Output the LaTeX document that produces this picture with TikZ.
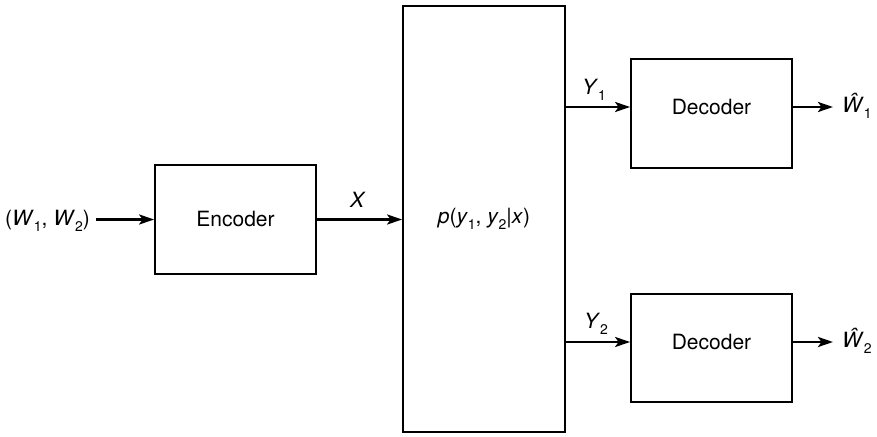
\documentclass[tikz,border=0pt]{standalone}
\usepackage{fontspec}
\setmainfont{TeX Gyre Heros}
\usetikzlibrary{arrows.meta}
\newcommand{\mysub}[1]{\raisebox{-0.28em}{\fontsize{14}{16}\selectfont #1}}
\begin{document}
\begin{tikzpicture}[x=1pt,y=-1pt,
  every node/.style={font=\fontsize{21}{25}\selectfont},
  blockbox/.style={draw, line width=1.8pt, inner sep=0pt},
  txt/.style={inner sep=2pt},
  arr/.style={line width=2.6pt, -{Stealth[length=15pt,width=10pt,inset=3.5pt]}}]
\useasboundingbox (0,0) rectangle (877,436);
% blocks
\node[blockbox, minimum width=161pt, minimum height=109pt] (enc) at (235.5,219.5) {Encoder};
\node[blockbox, minimum width=162pt, minimum height=426pt] (ch) at (484,219) {\textit{p}(\textit{y}\mysub{1}, \textit{y}\mysub{2}|\textit{x})};
\node[blockbox, minimum width=161pt, minimum height=109pt] (dec1) at (711.5,113.5) {};
\node[blockbox, minimum width=161pt, minimum height=108pt] (dec2) at (711.5,348) {};
\node[txt] (d1txt) at (711.5,107) {Decoder};
\node[txt] (d2txt) at (711.5,342) {Decoder};
% labels
\node[txt, inner xsep=6pt, anchor=east] (win) at (96,221) {(\textit{W}\mysub{1}, \textit{W}\mysub{2})};
\node[txt] (xl) at (358,200) {\textit{X}};
\node[txt] (y1l) at (594,90) {\textit{Y}\mysub{1}};
\node[txt] (y2l) at (596,324) {\textit{Y}\mysub{2}};
\node[txt, inner xsep=9pt, anchor=west] (w1) at (833,106) {\textit{\^W}\mysub{1}};
\node[txt, inner xsep=9pt, anchor=west] (w2) at (833,341) {\textit{\^W}\mysub{2}};
% connectors
\draw[arr] (win.east |- enc.west) -- (enc.west);
\draw[arr] (enc.east) -- (ch.west |- enc.east);
\draw[arr] (ch.east |- d1txt) -- (dec1.west |- d1txt);
\draw[arr] (ch.east |- d2txt) -- (dec2.west |- d2txt);
\draw[arr] (dec1.east |- d1txt) -- (w1.west |- d1txt);
\draw[arr] (dec2.east |- d2txt) -- (w2.west |- d2txt);
\end{tikzpicture}
\end{document}
